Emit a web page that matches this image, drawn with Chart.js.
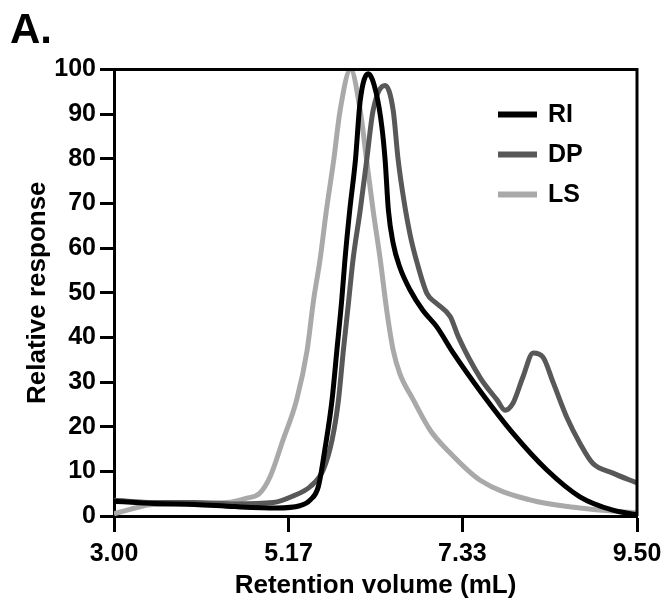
<!DOCTYPE html>
<html>
<head>
<meta charset="utf-8">
<script src="https://cdn.jsdelivr.net/npm/chart.js@4"></script>
<style>
  html, body { margin: 0; padding: 0; background: #fff; }
  #wrap { width: 662px; height: 599px; }
</style>
</head>
<body>
<div id="wrap"><canvas id="chart" width="662" height="599"></canvas></div>
<script>
// Series (x = retention volume in mL, y = relative response)
const seriesLabels = ['RI', 'DP', 'LS'];

const riX = [3.0, 3.5, 4.0, 4.5, 5.02, 5.31, 5.44, 5.54, 5.62, 5.71, 5.77, 5.83, 5.87, 5.93, 6.0, 6.06, 6.16, 6.26, 6.33, 6.37, 6.41, 6.47, 6.55, 6.68, 6.84, 7.01, 7.22, 7.55, 7.96, 8.38, 8.79, 9.2, 9.5];
const riY = [3.3, 2.8, 2.6, 2.1, 1.8, 2.3, 3.6, 6.6, 14.8, 26, 37.1, 48.3, 57.3, 68.5, 79.6, 93, 99, 94.6, 87, 79.6, 68.5, 61, 55.8, 50.6, 46, 42.4, 36.4, 28, 18.5, 10.3, 4.3, 1.3, 0.3];

const dpX = [3.0, 3.5, 4.0, 4.5, 4.98, 5.23, 5.44, 5.6, 5.71, 5.79, 5.85, 5.91, 5.97, 6.06, 6.14, 6.22, 6.37, 6.47, 6.53, 6.6, 6.68, 6.77, 6.89, 7.01, 7.18, 7.28, 7.55, 7.76, 7.86, 7.96, 8.08, 8.21, 8.33, 8.46, 8.63, 8.79, 8.95, 9.2, 9.5];
const dpY = [3.5, 3.0, 3.0, 2.7, 3.0, 4.5, 6.6, 10.3, 17, 26, 37, 47, 57.3, 68.5, 79.6, 90.8, 96.4, 90.8, 80, 71, 63, 56.5, 49.8, 47.6, 44.6, 40.1, 31, 26, 23.7, 25.3, 31, 36.5, 35.6, 29.8, 22, 16.3, 11.8, 9.6, 7.4];

const lsX = [3.0, 3.2, 3.45, 4.0, 4.4, 4.65, 4.81, 4.94, 5.1, 5.27, 5.4, 5.48, 5.56, 5.64, 5.73, 5.81, 5.94, 6.06, 6.14, 6.22, 6.31, 6.39, 6.47, 6.55, 6.72, 6.93, 7.14, 7.55, 8.17, 8.79, 9.5];
const lsY = [0.5, 1.5, 2.5, 2.8, 3.0, 4.0, 5.1, 8.8, 17, 26, 37.1, 48.3, 57.3, 68.5, 79.6, 90.8, 100, 90.8, 79.6, 68.5, 57.3, 46, 37.1, 32, 26, 19.2, 14.8, 8, 3.6, 1.8, 0.7];

const xTickValues = [3.00, 5.17, 7.33, 9.50];
const yTickStep = 10;

const FONT = "'Liberation Sans', Arial, Helvetica, sans-serif";

function points(xs, ys) {
    return xs.map((x, i) => ({ x: x, y: ys[i] }));
}

// Frame on the top and right side of the plot
const framePlugin = {
    id: 'frame',
    afterDraw(chart) {
        const { ctx, chartArea: a } = chart;
        ctx.save();
        ctx.strokeStyle = '#000';
        ctx.lineWidth = 3;
        ctx.beginPath();
        ctx.moveTo(a.left, a.top);
        ctx.lineTo(a.right, a.top);
        ctx.lineTo(a.right, a.bottom);
        ctx.stroke();
        ctx.restore();
    }
};

// Legend drawn inside the plot, top right
const innerLegend = {
    id: 'innerLegend',
    afterDraw(chart) {
        const { ctx, chartArea: a } = chart;
        ctx.save();
        ctx.font = 'bold 25px ' + FONT;
        ctx.textBaseline = 'middle';
        ctx.textAlign = 'left';
        chart.data.datasets.forEach((ds, i) => {
            const y = a.top + 45 + i * 40;
            ctx.strokeStyle = ds.borderColor;
            ctx.lineWidth = 6;
            ctx.beginPath();
            ctx.moveTo(a.right - 139, y);
            ctx.lineTo(a.right - 100, y);
            ctx.stroke();
            ctx.fillStyle = '#000';
            ctx.fillText(ds.label, a.right - 89, y + 1);
        });
        ctx.restore();
    }
};

const ctx = document.getElementById('chart').getContext('2d');

const colors = ['#000000', '#585858', '#a9a9a9'];
const xs = [riX, dpX, lsX];
const ys = [riY, dpY, lsY];

new Chart(ctx, {
    type: 'line',
    data: {
        datasets: seriesLabels.map((label, i) => ({
            label: label,
            data: points(xs[i], ys[i]),
            borderColor: colors[i],
            borderWidth: 5,
            pointRadius: 0,
            fill: false,
            order: i,
            cubicInterpolationMode: 'monotone'
        }))
    },
    options: {
        responsive: false,
        animation: false,
        layout: { padding: { left: 10, right: 25, top: 0, bottom: 0 } },
        plugins: {
            legend: { display: false },
            tooltip: { enabled: false },
            title: {
                display: true,
                text: 'A.',
                align: 'start',
                color: '#000',
                font: { family: FONT, size: 42, weight: 'bold' },
                padding: { top: 6, bottom: 13 }
            }
        },
        scales: {
            x: {
                type: 'linear',
                min: 3,
                max: 9.5,
                afterBuildTicks: s => { s.ticks = xTickValues.map(v => ({ value: v })); },
                afterFit: s => {
                    s.height = 83;
                    // let the end labels hang over the plot edges
                    s.paddingLeft = 0;
                    s.paddingRight = 0;
                },
                border: { color: '#000', width: 3 },
                grid: { drawOnChartArea: false, drawTicks: true, tickLength: 16, tickWidth: 3, color: '#000' },
                ticks: {
                    color: '#000',
                    padding: 7,
                    maxRotation: 0,
                    font: { family: FONT, size: 25, weight: 'bold' },
                    callback: v => Number(v).toFixed(2)
                },
                title: {
                    display: true,
                    text: 'Retention volume (mL)',
                    color: '#000',
                    font: { family: FONT, size: 26, weight: 'bold', lineHeight: 1.05 },
                    padding: { top: 0, bottom: 0 }
                }
            },
            y: {
                min: 0,
                max: 100,
                afterFit: s => { s.width = 104; },
                border: { color: '#000', width: 3 },
                grid: { drawOnChartArea: false, drawTicks: true, tickLength: 14, tickWidth: 3, color: '#000' },
                ticks: {
                    stepSize: yTickStep,
                    color: '#000',
                    padding: 4,
                    font: { family: FONT, size: 25, weight: 'bold' }
                },
                title: {
                    display: true,
                    text: 'Relative response',
                    color: '#000',
                    font: { family: FONT, size: 26, weight: 'bold' },
                    padding: { top: 12, bottom: 0 }
                }
            }
        }
    },
    plugins: [framePlugin, innerLegend]
});
</script>
</body>
</html>
